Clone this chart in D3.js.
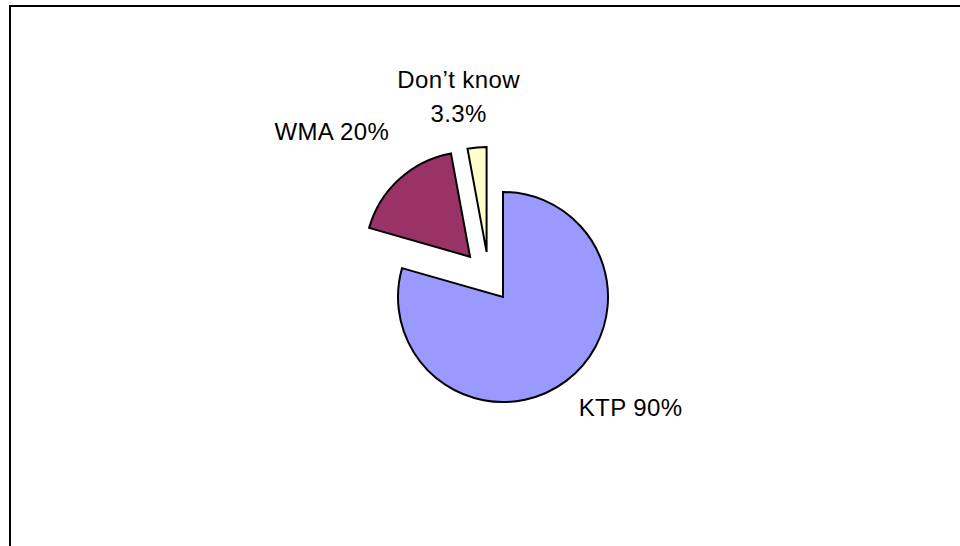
<!DOCTYPE html>
<html>
<head>
<meta charset="utf-8">
<script src="https://cdnjs.cloudflare.com/ajax/libs/d3/7.8.5/d3.min.js"></script>
<style>
  body { margin: 0; background: #fff; }
  svg text { font-family: "Liberation Sans", Arial, sans-serif; }
</style>
</head>
<body>
<div id="chart"></div>
<script>
// data
var categories = ["KTP", "WMA", "Don\u2019t know"];
var values = [90, 20, 3.3];
var labels = [["KTP 90%"], ["WMA 20%"], ["Don\u2019t know", "3.3%"]];

// styles
var colors = ["#9999FF", "#993366", "#FFFFCC"];
// explosion per slice: distance (px) and direction (degrees clockwise from top)
var explode = [{d: 0, a: 0}, {d: 52, a: 320.7}, {d: 48, a: 340}];
// label positions in polar terms around the pie centre
var labelPos = [{d: 169, a: 131}, {d: 238, a: 314}, {d: 205, a: 347.5}];

var width = 960, height = 546;
var cx = 503, cy = 297, radius = 105;

var svg = d3.select("#chart")
    .append("svg")
    .attr("width", width)
    .attr("height", height);

// chart area border (runs off the right and bottom edges)
svg.append("rect")
    .attr("x", 10)
    .attr("y", 6)
    .attr("width", 1000)
    .attr("height", 600)
    .attr("fill", "none")
    .attr("stroke", "#000")
    .attr("stroke-width", 2);

var pie = d3.pie().sort(null).value(function(d) { return d; });
var arc = d3.arc().innerRadius(0).outerRadius(radius);

var arcs = pie(values);

function polar(d, a) {
    var rad = a * Math.PI / 180;
    return [d * Math.sin(rad), -d * Math.cos(rad)];
}

var g = svg.append("g")
    .attr("transform", "translate(" + cx + "," + cy + ")");

g.selectAll("path")
    .data(arcs)
    .enter()
    .append("path")
    .attr("d", arc)
    .attr("transform", function(d, i) {
        var p = polar(explode[i].d, explode[i].a);
        return "translate(" + p[0] + "," + p[1] + ")";
    })
    .attr("fill", function(d, i) { return colors[i]; })
    .attr("stroke", "#000")
    .attr("stroke-width", 2)
    .attr("stroke-linejoin", "miter");

// labels
var lineH = 34;
var lab = g.selectAll("text.lab")
    .data(arcs)
    .enter()
    .append("text")
    .attr("class", "lab")
    .attr("text-anchor", "middle")
    .attr("font-size", 24)
    .attr("letter-spacing", 0.4)
    .attr("fill", "#000")
    .attr("transform", function(d, i) {
        var p = polar(labelPos[i].d, labelPos[i].a);
        return "translate(" + p[0] + "," + p[1] + ")";
    });

lab.each(function(d, i) {
    var lines = labels[i];
    var t = d3.select(this);
    lines.forEach(function(s, j) {
        t.append("tspan")
            .attr("x", 0)
            .attr("y", (j - (lines.length - 1) / 2) * lineH + 8.5)
            .text(s);
    });
});
</script>
</body>
</html>
